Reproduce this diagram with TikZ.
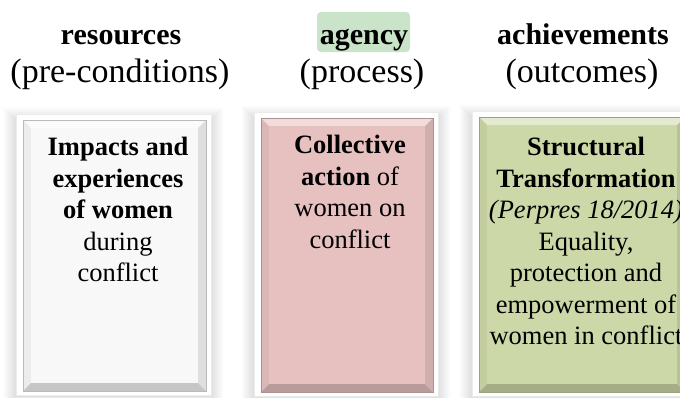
\documentclass[tikz,border=0pt]{standalone}
\usepackage{fontspec}
\setmainfont{Liberation Serif}

\definecolor{facegray}{HTML}{F8F8F8}
\definecolor{facepink}{HTML}{E6C1C0}
\definecolor{facegreen}{HTML}{CDD8A8}
\definecolor{hilite}{HTML}{C9E4C8}

% bevelled panel: x1,y1,x2,y2 of the bevel, face colour
\newcommand{\bevelbox}[5]{%
  \foreach \s in {2,4,...,12}
    \fill[black,opacity=0.02] (#1-7-\s,#2-6-\s+6) rectangle (#3+5+\s,#4+4+\s) ;
  \fill[white] (#1-7,#2-6) rectangle (#3+5,#4+4) ;
  \draw[black!8,line width=0.5] (#1-7,#2-6) rectangle (#3+5,#4+4) ;
  \fill[#5!55!white] (#1,#2) -- (#3,#2) -- (#3-8,#2+8) -- (#1+8,#2+8) -- cycle ;
  \fill[#5!95!black] (#1,#2) -- (#1+8,#2+8) -- (#1+8,#4-8) -- (#1,#4) -- cycle ;
  \fill[#5!90!black] (#3,#2) -- (#3,#4) -- (#3-8,#4-8) -- (#3-8,#2+8) -- cycle ;
  \fill[#5!80!black] (#1,#4) -- (#3,#4) -- (#3-8,#4-8) -- (#1+8,#4-8) -- cycle ;
  \fill[#5] (#1+8,#2+8) rectangle (#3-8,#4-8) ;
  \draw[#5!75!black,line width=0.5] (#1,#2) rectangle (#3,#4) ;
}

\tikzset{
  head/.style={anchor=base,inner sep=0pt,font=\fontsize{30}{34}\selectfont\bfseries},
  sub/.style={anchor=base,inner sep=0pt,font=\fontsize{34}{38}\selectfont},
  boxtext/.style={anchor=north,inner sep=0pt,align=center,font=\fontsize{26.5}{31.5}\selectfont}
}

\begin{document}
\begin{tikzpicture}[x=1pt,y=-1pt]
  \useasboundingbox (0,0) rectangle (680,397) ;
  \fill[white] (0,0) rectangle (680,397) ;

  % column headings
  \fill[hilite,rounded corners=4pt] (317,12) rectangle (410,52) ;
  \node[head] (res) at (121,44) {resources} ;
  \node[sub] (resp) at (120,82) {(pre-conditions)} ;
  \node[head] (agn) at (364,44) {agency} ;
  \node[sub] (agnp) at (362,82) {(process)} ;
  \node[head] (ach) at (583,44) {achievements} ;
  \node[sub] (achp) at (582,82) {(outcomes)} ;

  % panels
  \bevelbox{23}{120}{206}{391}{facegray}
  \bevelbox{261}{118}{433}{392}{facepink}
  \bevelbox{479}{117}{685}{392}{facegreen}

  \node[boxtext] (impacts) at (118,137)
    {\textbf{Impacts and}\\ \textbf{experiences}\\ \textbf{of women}\\ during\\ conflict} ;
  \node[boxtext] (action) at (350,135)
    {\textbf{Collective}\\ \textbf{action} of\\ women on\\ conflict} ;
  \node[boxtext] (transf) at (586,137)
    {\textbf{Structural}\\ \textbf{Transformation}\\ \textit{(Perpres 18/2014)}\\ Equality,\\ protection and\\ empowerment of\\ women in conflict} ;
\end{tikzpicture}
\end{document}
